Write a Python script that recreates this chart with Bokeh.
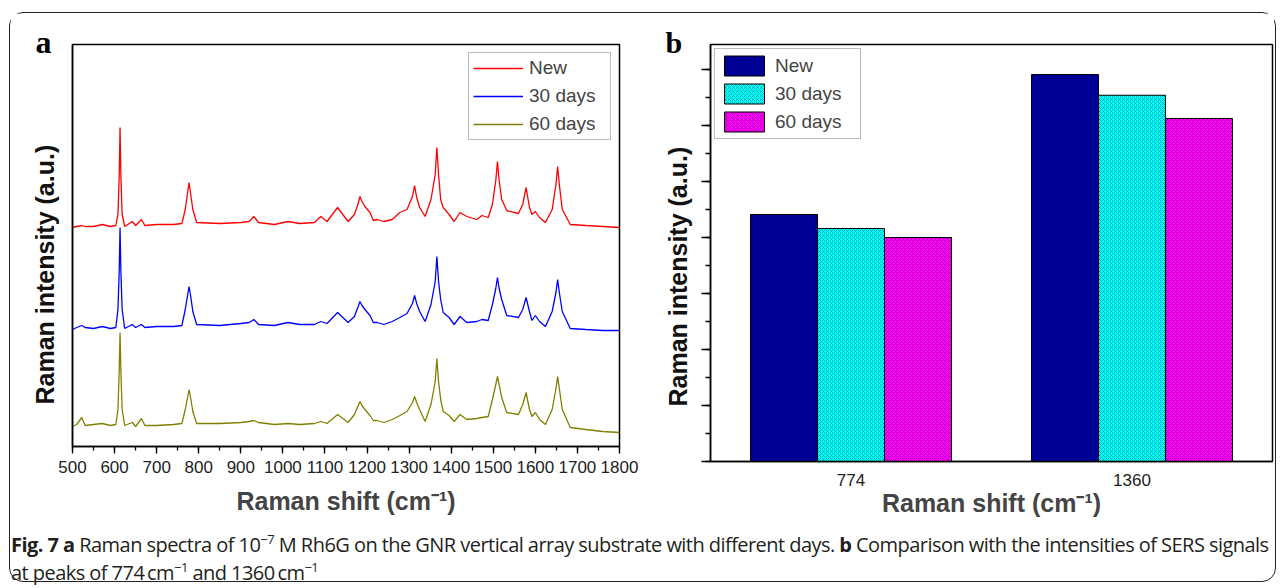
import math
from bokeh.plotting import figure
from bokeh.models import (Range1d, FactorRange, SingleIntervalTicker, FixedTicker,
                          Div, ColumnDataSource)
from bokeh.layouts import row, column
from bokeh.transform import dodge
from bokeh.embed import file_html
from bokeh.resources import INLINE

# ---------------- data (panel a: Raman spectra, offset stacked, a.u.) ----------------
wavenumber = [500, 510, 522, 530, 550, 571, 590, 603, 608, 611, 613, 615, 618, 624, 642, 650,
              664, 672, 700, 740, 760, 768, 773, 777, 781, 786, 795, 850, 900, 920, 931, 942,
              980, 1012, 1040, 1075, 1090, 1105, 1130, 1155, 1170, 1179, 1183, 1188, 1195,
              1207, 1215, 1224, 1240, 1260, 1278, 1295, 1308, 1313, 1318, 1325, 1338, 1352,
              1362, 1366, 1370, 1375, 1381, 1395, 1407, 1421, 1437, 1461, 1473, 1488, 1498,
              1506, 1510, 1514, 1520, 1532, 1560, 1570, 1578, 1586, 1592, 1600, 1610, 1624,
              1640, 1649, 1653, 1657, 1664, 1683, 1720, 1760, 1800]
spec_new = [219, 220, 221, 220, 220, 222, 220, 221, 232, 270, 319, 270, 232, 220, 225, 221,
            227, 221, 222, 222, 223, 237, 252, 264, 252, 237, 224, 223, 224, 225, 230, 224,
            222, 225, 223, 224, 230, 225, 239, 225, 232, 243, 250, 245, 240,
            234, 226, 227, 225, 227, 234, 237, 250, 261, 249, 239, 230, 247,
            272, 299, 272, 247, 239, 232, 225, 234, 230, 227, 231, 229, 242,
            266, 285, 266, 247, 236, 233, 242, 259, 239, 232, 235, 229, 224,
            237, 262, 280, 262, 237, 222, 221, 220, 219]
spec_30 = [117, 119, 121, 119, 118, 120, 118, 119, 137, 175, 219, 175, 137, 118, 122, 119,
           122, 119, 120, 120, 121, 137, 150, 160, 150, 135, 122, 121, 123, 124, 127, 122,
           121, 124, 122, 122, 125, 123, 134, 124, 130, 140, 145, 141, 137,
           131, 124, 124, 122, 125, 129, 133, 143, 151, 143, 135, 125, 142,
           165, 190, 165, 147, 134, 129, 122, 130, 124, 125, 127, 126, 142,
           158, 169, 158, 147, 131, 129, 137, 149, 135, 126, 131, 125, 120,
           135, 154, 167, 154, 135, 118, 117, 116, 116]
spec_60 = [20, 22, 29, 21, 22, 23, 21, 22, 37, 75, 114, 75, 37, 21, 24, 20,
           28, 21, 21, 22, 23, 37, 48, 57, 48, 35, 23, 23, 24, 25, 26, 24,
           22, 23, 22, 23, 25, 23, 32, 24, 32, 41, 45, 41, 37,
           31, 26, 26, 24, 27, 31, 35, 44, 50, 44, 37, 25, 42,
           65, 88, 65, 47, 35, 31, 25, 32, 27, 28, 29, 30, 47,
           62, 70, 62, 49, 34, 32, 42, 54, 37, 30, 34, 27, 22,
           37, 58, 70, 58, 37, 19, 17, 15, 14]
series_labels = ["New", "30 days", "60 days"]

# ---------------- data (panel b: peak intensities) ----------------
peaks = ["774", "1360"]
bar_new = [4410, 6910]
bar_30 = [4160, 6540]
bar_60 = [4000, 6125]

AX_FONT = "Liberation Sans"
YTITLE = "Raman intensity (a.u.)"
XTITLE = "Raman shift (cm\u207b\u00b9)"


def style_ytitle(p, offset, standoff):
    t = p.title
    t.align = "left"
    t.offset = offset
    t.standoff = standoff
    t.text_font = AX_FONT
    t.text_font_style = "bold"
    t.text_font_size = "25px"
    t.text_color = "#111111"


# ---------------- panel a ----------------
p1 = figure(frame_width=547, frame_height=402, min_border_left=62, min_border_top=31,
            min_border_right=30, min_border_bottom=85,
            x_range=Range1d(500, 1800), y_range=Range1d(0, 402),
            title=YTITLE, title_location="left",
            output_backend="svg", toolbar_location=None)
style_ytitle(p1, 42, 27)
p1.grid.visible = False
p1.outline_line_color = "black"
p1.outline_line_width = 1.5

colors = ["#ff0000", "#0000ff", "#808000"]
for ys, c, lab in zip([spec_new, spec_30, spec_60], colors, series_labels):
    p1.line(wavenumber, ys, line_color=c, line_width=1.3, legend_label=lab)

xa = p1.xaxis[0]
xa.ticker = SingleIntervalTicker(interval=100, num_minor_ticks=2)
xa.axis_line_width = 1.5
xa.major_tick_in = 0
xa.major_tick_out = 7
xa.minor_tick_in = 0
xa.minor_tick_out = 4
xa.major_tick_line_width = 1.3
xa.minor_tick_line_width = 1.3
xa.major_label_standoff = 7
xa.major_label_text_font = AX_FONT
xa.major_label_text_font_size = "17px"
xa.major_label_text_color = "#222222"
xa.axis_label = XTITLE
xa.axis_label_text_font = AX_FONT
xa.axis_label_text_font_style = "bold"
xa.axis_label_text_font_size = "25px"
xa.axis_label_standoff = 11

ya = p1.yaxis[0]
ya.ticker = FixedTicker(ticks=[])
ya.axis_line_width = 1.5
ya.major_tick_out = 0
ya.major_tick_in = 0
ya.minor_tick_out = 0
ya.minor_tick_in = 0
ya.major_label_standoff = 0

lg1 = p1.legend[0]
lg1.location = "top_right"
lg1.margin = 8
lg1.padding = 4
lg1.spacing = 6
lg1.glyph_width = 50
lg1.glyph_height = 20
lg1.label_height = 20
lg1.label_width = 77
lg1.label_standoff = 6
lg1.label_text_font = AX_FONT
lg1.label_text_font_size = "19px"
lg1.border_line_color = "#777777"
lg1.border_line_width = 1.2

# ---------------- panel b ----------------
src = ColumnDataSource(dict(peak=peaks, new=bar_new, d30=bar_30, d60=bar_60))
p2 = figure(frame_width=562, frame_height=417, min_border_left=61, min_border_top=30,
            min_border_right=2, min_border_bottom=71,
            x_range=FactorRange(*peaks), y_range=Range1d(0, 7446),
            title=YTITLE, title_location="left",
            output_backend="svg", toolbar_location=None)
style_ytitle(p2, 55, 19)
p2.grid.visible = False
p2.outline_line_color = "black"
p2.outline_line_width = 1.5

w = 0.2384
bar_cols = ["#0000a8", "#00ffff", "#ff00ff"]
for key, off, c, lab in zip(["new", "d30", "d60"], [-w, 0, w], bar_cols, series_labels):
    p2.vbar(x=dodge("peak", off, range=p2.x_range), top=key, width=w, source=src,
            fill_color=c, line_color="black", line_width=1,
            hatch_pattern="diagonal_cross", hatch_scale=4, hatch_weight=0.6,
            hatch_color="black", hatch_alpha=0.45, legend_label=lab)

xb = p2.xaxis[0]
xb.axis_line_width = 1.5
xb.major_tick_in = 0
xb.major_tick_out = 0
xb.minor_tick_out = 0
xb.major_label_standoff = 12
xb.major_label_text_font = AX_FONT
xb.major_label_text_font_size = "17px"
xb.major_label_text_color = "#222222"
xb.axis_label = XTITLE
xb.axis_label_text_font = AX_FONT
xb.axis_label_text_font_style = "bold"
xb.axis_label_text_font_size = "25px"
xb.axis_label_standoff = 0

yb = p2.yaxis[0]
yb.ticker = SingleIntervalTicker(interval=1000, num_minor_ticks=2)
yb.axis_line_width = 1.5
yb.major_tick_in = 0
yb.major_tick_out = 9
yb.minor_tick_in = 0
yb.minor_tick_out = 5
yb.major_tick_line_width = 1.3
yb.minor_tick_line_width = 1.3
yb.major_label_overrides = {i * 1000: "" for i in range(0, 8)}
yb.major_label_text_color = None
yb.major_label_standoff = 0

lg2 = p2.legend[0]
lg2.location = "top_left"
lg2.margin = 4
lg2.padding = 4
lg2.spacing = 3
lg2.glyph_width = 50
lg2.glyph_height = 25
lg2.label_height = 25
lg2.label_width = 81
lg2.label_standoff = 6
lg2.label_text_font = AX_FONT
lg2.label_text_font_size = "19px"
lg2.border_line_color = "#777777"
lg2.border_line_width = 1.2

# ---------------- panel letters ----------------
letter_a = Div(text="a", width=30, height=34,
               styles={"position": "absolute", "left": "20.5px", "top": "7.8px",
                       "font-family": "'Liberation Serif', serif", "font-weight": "bold",
                       "font-size": "32px", "line-height": "1", "color": "black"})
letter_b = Div(text="b", width=30, height=34,
               styles={"position": "absolute", "left": "650.5px", "top": "10.4px",
                       "font-family": "'Liberation Serif', serif", "font-weight": "bold",
                       "font-size": "30px", "line-height": "1", "color": "black"})

# ---------------- caption ----------------
sup = '<sup style="font-size:0.65em; vertical-align:super; line-height:0">'
cap_html = (
    '<div style="font-family:\'Open Sans\', sans-serif; font-size:20px; letter-spacing:-0.55px; '
    'line-height:28px; color:#231f20; white-space:nowrap; padding-left:1px;">'
    '<b>Fig. 7 a</b> Raman spectra of 10' + sup + '\u22127</sup> M Rh6G on the GNR vertical '
    'array substrate with different days. <b>b</b> Comparison with the intensities of SERS signals'
    '<br>at peaks of 774\u2009cm' + sup + '\u22121</sup> and 1360\u2009cm' + sup + '\u22121</sup></div>'
)
cap = Div(text=cap_html, width=1265, height=50, styles={"margin": "0"})

root = column(row(p1, p2), cap, letter_a, letter_b,
              styles={"border": "1.5px solid #222222", "border-radius": "14px",
                      "margin-left": "9px", "margin-top": "12px", "position": "relative"})

open("out.html", "w").write(file_html(root, INLINE))
